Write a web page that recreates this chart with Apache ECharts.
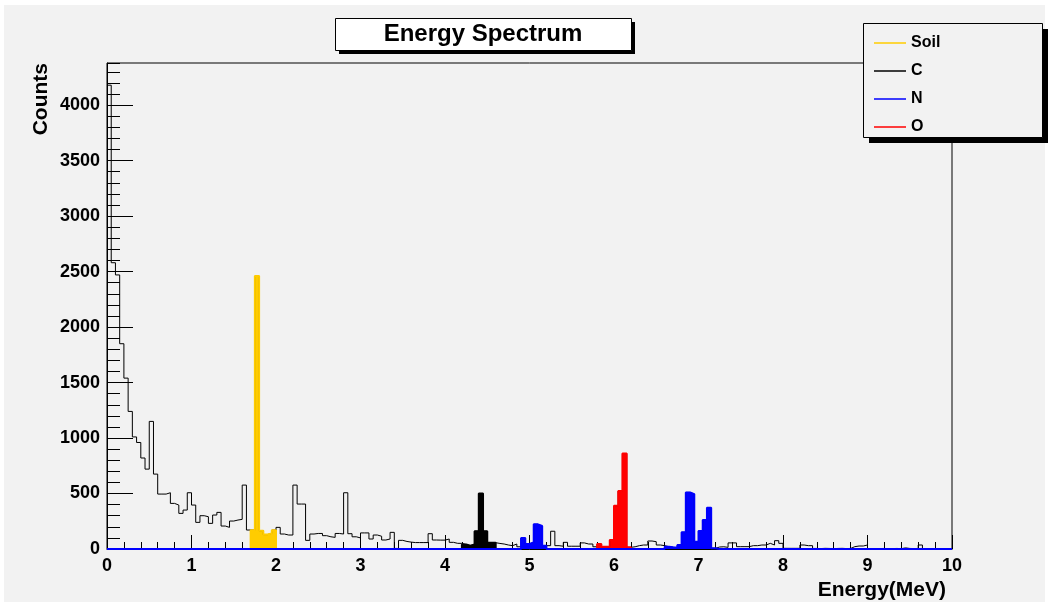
<!DOCTYPE html>
<html>
<head>
<meta charset="utf-8">
<title>Energy Spectrum</title>
<script src="https://cdn.jsdelivr.net/npm/echarts@6/dist/echarts.min.js"></script>
<style>
  html, body { margin: 0; padding: 0; background: #ffffff; }
  #chart { width: 1048px; height: 607px; }
</style>
</head>
<body>
<div id="chart"></div>
<script>
// Histogram binning: 200 bins of 0.05 MeV from 0 to 10 MeV
const BIN_WIDTH = 0.05;
const energyRange = [0, 10];
const countsMax = 4380;
const energyTickStep = 1;
const countsTickStep = 500;
const countsMinorStep = 100;

// Counts per bin of the measured spectrum
const spectrum = [
  4180, 2580, 2470, 1850, 1540, 1240, 1010, 960, 820, 720,
  1150, 675, 495, 495, 507, 411, 396, 321, 351, 507,
  396, 240, 300, 291, 231, 306, 330, 207, 195, 252,
  261, 267, 576, 171, 170, 2460, 165, 130, 140, 170,
  195, 135, 126, 126, 576, 405, 405, 78, 135, 140,
  140, 120, 110, 105, 140, 135, 507, 138, 110, 100,
  145, 145, 90, 126, 115, 81, 90, 150, 5, 78,
  68, 62, 58, 58, 58, 58, 138, 81, 80, 80,
  90, 60, 51, 51, 40, 30, 40, 160, 500, 160,
  57, 57, 50, 45, 36, 30, 45, 20, 99, 45,
  60, 222, 207, 30, 30, 160, 30, 25, 60, 25,
  25, 25, 55, 45, 45, 20, 45, 20, 20, 81,
  390, 522, 860, 15, 20, 30, 36, 36, 72, 66,
  36, 30, 21, 15, 12, 36, 150, 510, 495, 66,
  162, 261, 372, 6, 18, 20, 15, 55, 55, 21,
  21, 21, 30, 30, 36, 36, 51, 36, 75, 51,
  6, 6, 6, 6, 36, 30, 30, 5, 4, 6,
  5, 3, 5, 6, 4, 5, 21, 27, 27, 36,
  4, 3, 4, 5, 3, 4, 5, 3, 10, 5,
  4, 5, 36, 3, 2, 4, 3, 2, 3, 2
];

// Energy windows (MeV) of the characteristic gamma lines
const soilWindows = [[1.70, 2.00]];
const carbonWindows = [[4.20, 4.60]];
const nitrogenWindows = [[4.90, 5.20], [6.60, 7.20]];
const oxygenWindows = [[5.80, 6.20]];

const legendNames = ['Soil', 'C', 'N', 'O'];
const colors = { Soil: '#ffcc00', C: '#000000', N: '#0000ff', O: '#ff0000' };

const edge = i => +(i * BIN_WIDTH).toFixed(2);
const inWindows = (i, windows) => {
  const centre = (i + 0.5) * BIN_WIDTH;
  return windows.some(([a, b]) => centre > a && centre < b);
};

// Step-line points for the whole range: each bin value held from its lower edge to the next edge
function stepPoints(values) {
  const pts = values.map((v, i) => [edge(i), v]);
  pts.push([edge(values.length), values[values.length - 1]]);
  return pts;
}

// Step-line points covering only the bins inside the windows, closed down to zero at each end
function windowPoints(windows) {
  const pts = [];
  windows.forEach(([a, b], k) => {
    const bins = spectrum.map((v, i) => i).filter(i => inWindows(i, [[a, b]]));
    const first = bins[0], last = bins[bins.length - 1];
    if (k > 0) pts.push(null);
    pts.push([edge(first), 0]);
    bins.forEach(i => pts.push([edge(i), spectrum[i]]));
    pts.push([edge(last + 1), spectrum[last]]);
    pts.push([edge(last + 1), 0]);
  });
  return pts;
}

// Whole-range contents, zero outside the windows
function windowedFull(windows) {
  return spectrum.map((v, i) => (inWindows(i, windows) ? v : 0));
}

const FONT = '"Liberation Sans", Arial, Helvetica, sans-serif';

function filledHist(name, data) {
  return {
    name: name,
    type: 'line',
    step: 'end',
    data: data,
    showSymbol: false,
    connectNulls: false,
    color: colors[name],
    lineStyle: { color: colors[name], width: 2 },
    areaStyle: { color: colors[name], opacity: 1 },
    animation: false
  };
}

const chart = echarts.init(document.getElementById('chart'), null, { renderer: 'canvas' });

chart.setOption({
  backgroundColor: '#ffffff',
  animation: false,
  graphic: [
    { type: 'rect', silent: true, z: -100,
      shape: { x: 4, y: 5, width: 1041, height: 597 }, style: { fill: '#f2f2f2' } },
    // title pad with drop shadow
    { type: 'rect', silent: true, z: 10,
      shape: { x: 339, y: 22, width: 296, height: 32 }, style: { fill: '#000' } },
    { type: 'rect', silent: true, z: 11,
      shape: { x: 335.5, y: 18.5, width: 296, height: 32 },
      style: { fill: '#ffffff', stroke: '#000', lineWidth: 1 } },
    { type: 'text', silent: true, z: 12, x: 483, y: 34.5,
      style: { text: 'Energy Spectrum', fontFamily: FONT, fontWeight: 'bold', fontSize: 24,
               fill: '#000', align: 'center', verticalAlign: 'middle' } },
    // legend pad with drop shadow
    { type: 'rect', silent: true, z: 10,
      shape: { x: 869, y: 29, width: 179, height: 114 }, style: { fill: '#000' } },
    { type: 'rect', silent: true, z: 11,
      shape: { x: 863.5, y: 23.5, width: 179, height: 114 },
      style: { fill: '#f2f2f2', stroke: '#000', lineWidth: 1 } }
  ],
  legend: {
    z: 20,
    data: legendNames,
    orient: 'vertical',
    left: 869,
    top: 30,
    icon: 'rect',
    itemWidth: 32,
    itemHeight: 1.5,
    itemGap: 12,
    selectedMode: false,
    textStyle: { fontFamily: FONT, fontWeight: 'bold', fontSize: 16, color: '#000' }
  },
  grid: {
    left: 107, right: 96, top: 63, bottom: 58,
    show: true, borderColor: '#000', borderWidth: 1, backgroundColor: 'transparent'
  },
  xAxis: {
    type: 'value',
    min: energyRange[0], max: energyRange[1], interval: energyTickStep,
    name: 'Energy(MeV)',
    nameLocation: 'end',
    nameGap: 0,
    nameTextStyle: { fontFamily: FONT, fontWeight: 'bold', fontSize: 21, color: '#000',
                     align: 'right', verticalAlign: 'top', padding: [31, 6, 0, 0] },
    axisLine: { show: true, lineStyle: { color: '#000', width: 1 } },
    axisTick: { show: true, inside: true, length: 14, lineStyle: { color: '#000' } },
    minorTick: { show: true, splitNumber: 5, length: 7, lineStyle: { color: '#000' } },
    axisLabel: { margin: 8, fontFamily: FONT, fontWeight: 'bold', fontSize: 18, color: '#000',
                 formatter: v => String(v) },
    splitLine: { show: false }
  },
  yAxis: [
    {
      type: 'value',
      min: 0, max: countsMax, interval: countsTickStep,
      position: 'left',
      name: 'Counts',
      nameLocation: 'end',
      nameGap: 0,
      nameRotate: 90,
      nameTextStyle: { fontFamily: FONT, fontWeight: 'bold', fontSize: 21, color: '#000',
                       align: 'right', verticalAlign: 'bottom', padding: [0, 0, 55, 0] },
      axisLine: { show: true, lineStyle: { color: '#000', width: 1 } },
      axisTick: { show: true, inside: true, length: 26, lineStyle: { color: '#000' } },
      axisLabel: { margin: 7, showMaxLabel: false, fontFamily: FONT, fontWeight: 'bold',
                   fontSize: 18, color: '#000', formatter: v => String(v) },
      splitLine: { show: false }
    },
    {
      type: 'value',
      min: 0, max: countsMax, interval: countsMinorStep,
      position: 'left',
      axisLine: { show: false },
      axisTick: { show: true, inside: true, length: 13, lineStyle: { color: '#000' } },
      axisLabel: { show: false },
      splitLine: { show: false }
    }
  ],
  series: [
    {
      name: 'C',
      type: 'line',
      step: 'end',
      data: stepPoints(spectrum),
      showSymbol: false,
      color: colors.C,
      lineStyle: { color: colors.C, width: 1 },
      animation: false
    },
    filledHist('Soil', windowPoints(soilWindows)),
    filledHist('C', windowPoints(carbonWindows)),
    filledHist('O', windowPoints(oxygenWindows)),
    filledHist('N', stepPoints(windowedFull(nitrogenWindows)))
  ]
});
</script>
</body>
</html>
